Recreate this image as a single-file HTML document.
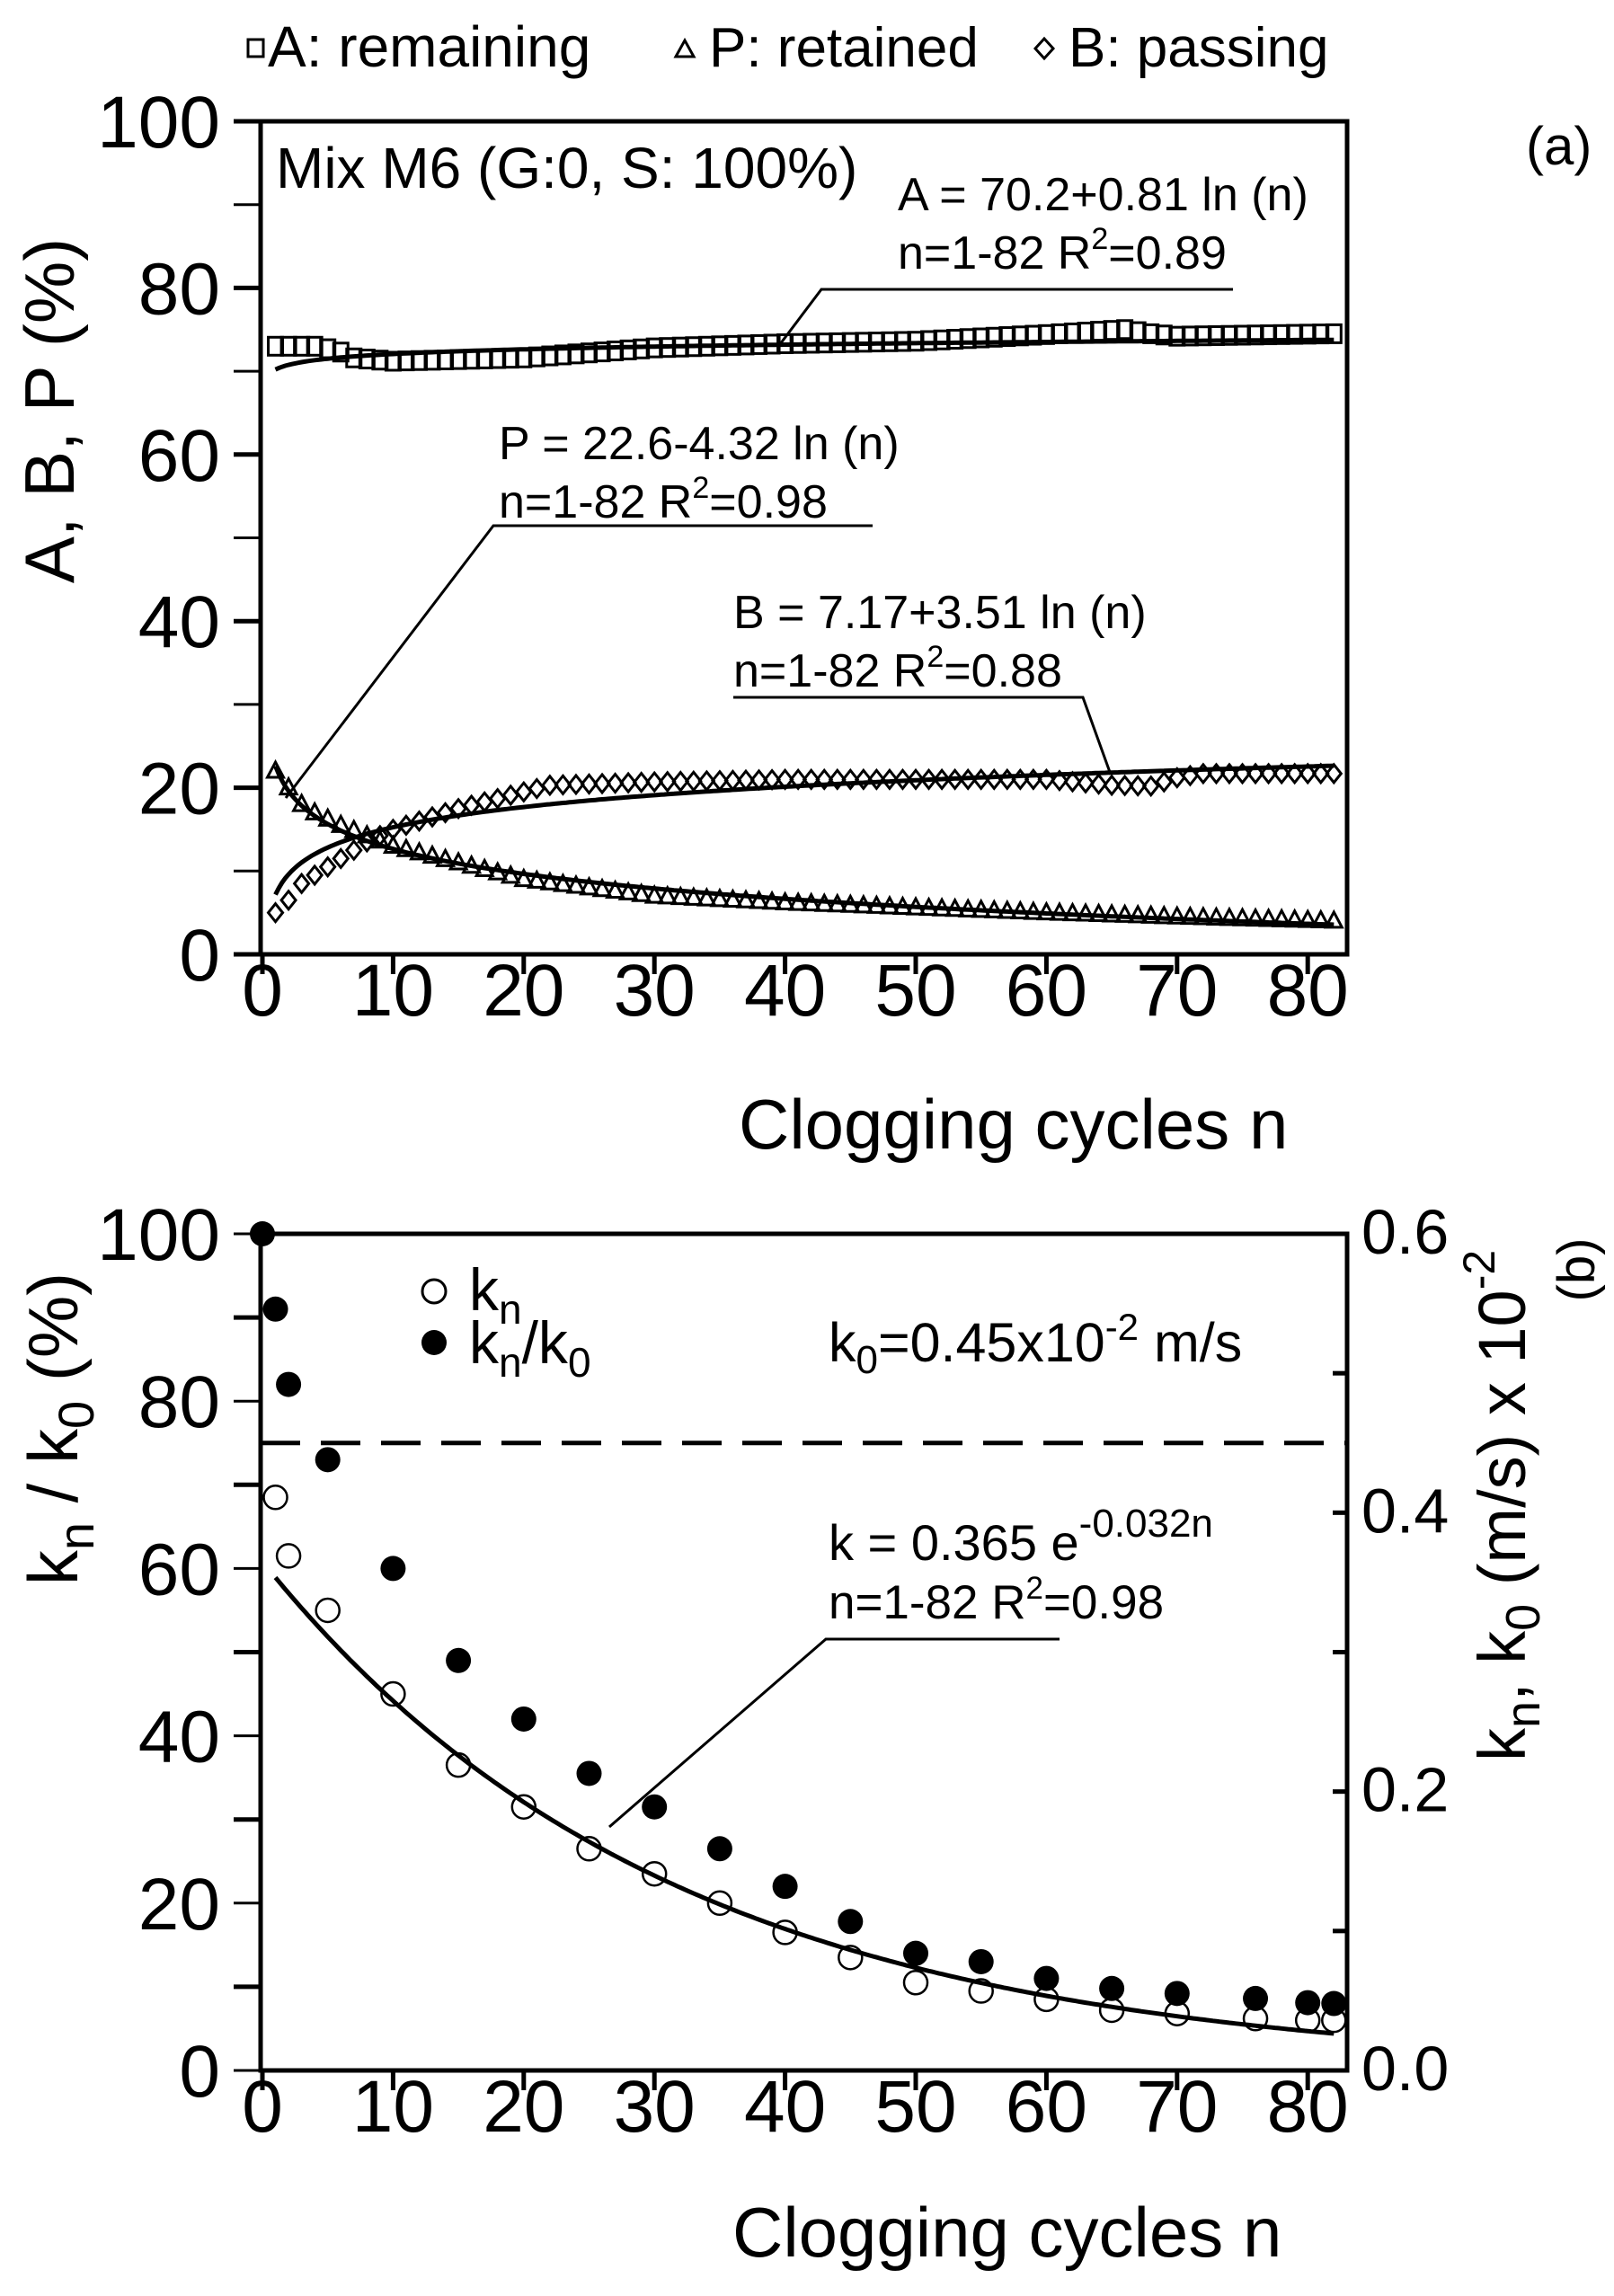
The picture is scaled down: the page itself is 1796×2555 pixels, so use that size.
<!DOCTYPE html>
<html><head><meta charset="utf-8"><style>
html,body{margin:0;padding:0;background:#fff}
svg{display:block}
text{font-family:"Liberation Sans",Arial,sans-serif;fill:#000}
</style></head><body>
<svg id="s" width="1796" height="2555" viewBox="0 0 1796 2555" xmlns="http://www.w3.org/2000/svg">
<rect width="1796" height="2555" fill="#fff"/>
<!-- Legend top -->
<rect x="276" y="44" width="17" height="19" fill="none" stroke="#000" stroke-width="3"/>
<text x="298" y="74" font-size="64">A: remaining</text>
<polygon points="752,63 772,63 762,45" fill="none" stroke="#000" stroke-width="3"/>
<text x="789" y="74" font-size="62">P: retained</text>
<polygon points="1162,43 1172,54 1162,65 1152,54" fill="none" stroke="#000" stroke-width="3"/>
<text x="1189" y="74" font-size="62">B: passing</text>
<text x="1698" y="183" font-size="60">(a)</text>

<g id="top"></g>
<g id="bot"></g>

<!-- top annotations -->
<text x="307" y="209" font-size="64">Mix M6 (G:0, S: 100%)</text>
<text x="999" y="234" font-size="52">A = 70.2+0.81 ln (n)</text>
<text x="999" y="299" font-size="52">n=1-82 R<tspan font-size="34" dy="-22">2</tspan><tspan dy="22">=0.89</tspan></text>
<polyline points="1372,322 914,322 868,383" fill="none" stroke="#000" stroke-width="3"/>
<text x="555" y="511" font-size="52">P = 22.6-4.32 ln (n)</text>
<text x="555" y="576" font-size="52">n=1-82 R<tspan font-size="34" dy="-22">2</tspan><tspan dy="22">=0.98</tspan></text>
<polyline points="971,585 549,585 318,888" fill="none" stroke="#000" stroke-width="3"/>
<text x="816" y="699" font-size="52">B = 7.17+3.51 ln (n)</text>
<text x="816" y="764" font-size="52">n=1-82 R<tspan font-size="34" dy="-22">2</tspan><tspan dy="22">=0.88</tspan></text>
<polyline points="816,776 1205,776 1236,862" fill="none" stroke="#000" stroke-width="3"/>
<text x="822" y="1278" font-size="78">Clogging cycles n</text>
<text transform="translate(82,457) rotate(-90)" text-anchor="middle" font-size="78">A, B, P (%)</text>

<!-- bottom annotations -->
<text transform="translate(1774,1413) rotate(-90)" text-anchor="middle" font-size="58">(b)</text>
<circle cx="483" cy="1437" r="13" fill="#fff" stroke="#000" stroke-width="3"/>
<text x="522" y="1458" font-size="66">k<tspan font-size="46" dy="15">n</tspan></text>
<circle cx="483" cy="1494" r="14" fill="#000"/>
<text x="522" y="1517" font-size="66">k<tspan font-size="46" dy="15">n</tspan><tspan dy="-15">/k</tspan><tspan font-size="46" dy="15">0</tspan></text>
<text x="922" y="1515" font-size="61">k<tspan font-size="44" dy="13">0</tspan><tspan dy="-13">=0.45x10</tspan><tspan font-size="42" dy="-24">-2</tspan><tspan dy="24"> m/s</tspan></text>
<text x="922" y="1736" font-size="56">k = 0.365 e<tspan font-size="44" dy="-26">-0.032n</tspan></text>
<text x="922" y="1801" font-size="53">n=1-82 R<tspan font-size="35" dy="-22">2</tspan><tspan dy="22">=0.98</tspan></text>
<polyline points="1179,1824 919,1824 678,2033" fill="none" stroke="#000" stroke-width="3"/>
<text x="815" y="2511" font-size="78">Clogging cycles n</text>
<text transform="translate(86,1590) rotate(-90)" text-anchor="middle" font-size="78">k<tspan font-size="56" dy="18">n</tspan><tspan dy="-18"> / k</tspan><tspan font-size="56" dy="18">0</tspan><tspan dy="-18"> (%)</tspan></text>
<text transform="translate(1697,1960) rotate(-90)" font-size="74">k<tspan font-size="54" dy="16">n</tspan><tspan dy="-16">, k</tspan><tspan font-size="54" dy="16">0</tspan><tspan dy="-16"> (m/s) x 10</tspan><tspan font-size="50" dy="-34">-2</tspan></text>
</svg>
<script>
(function(){
var NS="http://www.w3.org/2000/svg";
function el(p,t,a){var e=document.createElementNS(NS,t);for(var k in a)e.setAttribute(k,a[k]);p.appendChild(e);return e;}
function interp(pts,n){for(var i=0;i<pts.length-1;i++){if(n>=pts[i][0]&&n<=pts[i+1][0]){var t=(n-pts[i][0])/(pts[i+1][0]-pts[i][0]);return pts[i][1]+t*(pts[i+1][1]-pts[i][1]);}}return pts[pts.length-1][1];}
var X0=292,XU=14.54,XL=290,XR=1499;
function X(n){return X0+n*XU;}
var g=document.getElementById('top');
var T=135,B=1062,YU=(B-T)/100;
function Y(v){return B-v*YU;}
var Apts=[[1,73],[4,73],[5,72.7],[6,72.3],[7,71.6],[10,71.2],[20,71.6],[30,72.8],[40,73.3],[50,73.6],[60,74.4],[66,75],[68,74.5],[70,74.2],[82,74.5]];
var Ppts=[[1,22],[2,20],[3,18],[4,17],[6,15.5],[10,13],[15,11],[20,9],[30,7],[40,6.2],[50,5.6],[60,5],[70,4.5],[82,4]];
var Bpts=[[1,5],[2,6.5],[3,8.5],[5,10.5],[8,13.5],[10,15],[15,17.5],[20,19.5],[22,20.3],[30,20.7],[40,21],[60,21],[65,20.3],[68,20.2],[70,21.2],[72,21.7],[82,21.7]];
for(var n=1;n<=82;n++){
 var x=X(n),y=Y(interp(Apts,n));
 el(g,'rect',{x:x-8,y:y-10,width:16,height:20,fill:'none',stroke:'#000','stroke-width':3});
 y=Y(interp(Ppts,n));
 el(g,'polygon',{points:(x-9)+','+(y+7)+' '+(x+9)+','+(y+7)+' '+x+','+(y-10),fill:'none',stroke:'#000','stroke-width':3});
 y=Y(interp(Bpts,n));
 el(g,'polygon',{points:x+','+(y-10)+' '+(x+8)+','+y+' '+x+','+(y+10)+' '+(x-8)+','+y,fill:'none',stroke:'#000','stroke-width':3});
}
function curve(f,a,b){var d='';for(var n=a;n<=b;n+=0.25){d+=(n==a?'M':'L')+X(n).toFixed(1)+','+f(n).toFixed(1);}return d;}
el(g,'path',{d:curve(function(n){return Y(70.2+0.81*Math.log(n));},1,82),fill:'none',stroke:'#000','stroke-width':5});
el(g,'path',{d:curve(function(n){return Y(22.6-4.32*Math.log(n));},1,82),fill:'none',stroke:'#000','stroke-width':5});
el(g,'path',{d:curve(function(n){return Y(7.17+3.51*Math.log(n));},1,82),fill:'none',stroke:'#000','stroke-width':5});
el(g,'rect',{x:XL,y:T,width:XR-XL,height:B-T,fill:'none',stroke:'#000','stroke-width':5});
for(var v=0;v<=100;v+=10){
 var yy=Y(v);
 el(g,'line',{x1:XL-30,x2:XL,y1:yy,y2:yy,stroke:'#000','stroke-width':(v%20==0?5:3)});
 if(v%20==0){var t=el(g,'text',{x:245,y:yy+29,'font-size':82,'text-anchor':'end'});t.textContent=v;}
}
for(var k=0;k<=80;k+=10){
 el(g,'line',{x1:X(k),x2:X(k),y1:B,y2:B+22,stroke:'#000','stroke-width':5});
 var t=el(g,'text',{x:X(k),y:1130,'font-size':82,'text-anchor':'middle'});t.textContent=k;
}
var g2=document.getElementById('bot');
var T2=1373,B2=2304,YU2=(B2-T2)/100;
function Y2(v){return B2-v*YU2;}
el(g2,'line',{x1:XL,x2:XR,y1:Y2(75),y2:Y2(75),stroke:'#000','stroke-width':5,'stroke-dasharray':'44,23'});
var open=[[1,68.5],[2,61.5],[5,55],[10,45],[15,36.5],[20,31.5],[25,26.5],[30,23.5],[35,20],[40,16.5],[45,13.5],[50,10.5],[55,9.5],[60,8.5],[65,7.2],[70,6.8],[76,6.2],[80,6],[82,6]];
var fill=[[0,100],[1,91],[2,82],[5,73],[10,60],[15,49],[20,42],[25,35.5],[30,31.5],[35,26.5],[40,22],[45,17.8],[50,14],[55,13],[60,11],[65,9.8],[70,9.2],[76,8.6],[80,8.1],[82,8]];
open.forEach(function(p){el(g2,'circle',{cx:X(p[0]),cy:Y2(p[1]),r:13,fill:'#fff',stroke:'#000','stroke-width':2.5});});
fill.forEach(function(p){el(g2,'circle',{cx:X(p[0]),cy:Y2(p[1]),r:14,fill:'#000'});});
el(g2,'path',{d:curve(function(n){return Y2(0.365*Math.exp(-0.032*n)/0.6*100);},1,82),fill:'none',stroke:'#000','stroke-width':5});
el(g2,'rect',{x:XL,y:T2,width:XR-XL,height:B2-T2,fill:'none',stroke:'#000','stroke-width':5});
for(var v=0;v<=100;v+=10){
 var yy=Y2(v);
 el(g2,'line',{x1:XL-30,x2:XL,y1:yy,y2:yy,stroke:'#000','stroke-width':(v%20==0?3:5)});
 if(v%20==0){var t=el(g2,'text',{x:245,y:yy+29,'font-size':82,'text-anchor':'end'});t.textContent=v;}
}
for(var i=0;i<=6;i++){
 var yy=B2-i*(B2-T2)/6;
 el(g2,'line',{x1:XR-16,x2:XR,y1:yy,y2:yy,stroke:'#000','stroke-width':5});
 if(i%2==0){var t=el(g2,'text',{x:1515,y:yy+22,'font-size':70});t.textContent=(i/10).toFixed(1);}
}
for(var k=0;k<=80;k+=10){
 el(g2,'line',{x1:X(k),x2:X(k),y1:B2,y2:B2+22,stroke:'#000','stroke-width':5});
 var t=el(g2,'text',{x:X(k),y:2372,'font-size':82,'text-anchor':'middle'});t.textContent=k;
}
})();
</script>
</body></html>
